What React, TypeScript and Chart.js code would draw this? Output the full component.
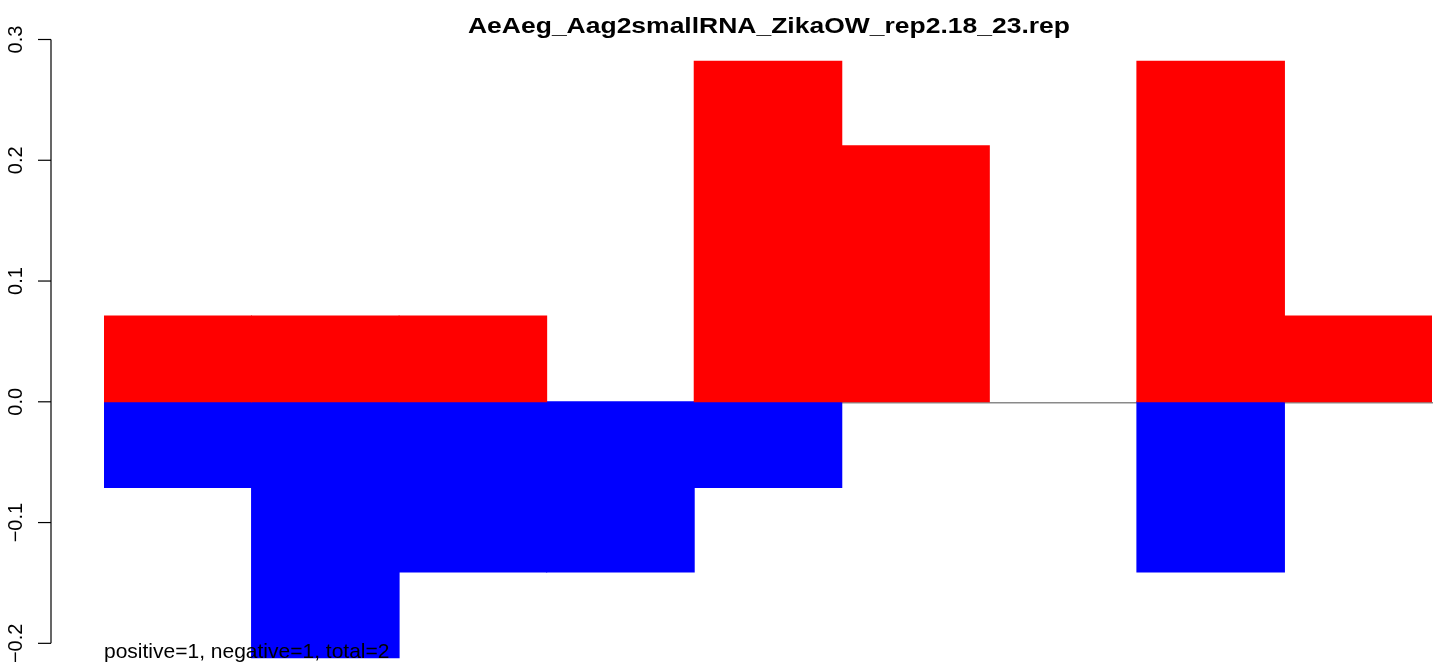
import React, { useEffect, useRef } from "react";
import { Chart, registerables } from "chart.js";

Chart.register(...registerables);

const TITLE = "AeAeg_Aag2smallRNA_ZikaOW_rep2.18_23.rep";
const FOOTNOTE = "positive=1, negative=1, total=2";
const categories = ["1", "2", "3", "4", "5", "6", "7", "8", "9"];
const positiveValues = [0.071, 0.071, 0.071, 0, 0.282, 0.212, 0, 0.282, 0.071];
const negativeValues = [-0.071, -0.212, -0.141, -0.141, -0.071, 0, 0, -0.141, 0];
const yTicks = [-0.2, -0.1, 0.0, 0.1, 0.2, 0.3];
const yTickLabels = ["\u22120.2", "\u22120.1", "0.0", "0.1", "0.2", "0.3"];
const Y_MIN = -0.2196;
const Y_MAX = 0.3;

const FONT = "'Liberation Sans', Arial, Helvetica, sans-serif";

const decorPlugin = {
  id: "rdecor",
  beforeDatasetsDraw(chart: any) {
    const { ctx, chartArea, scales } = chart;
    const y0 = scales.y.getPixelForValue(0);
    ctx.save();
    ctx.strokeStyle = "#8a8a8a";
    ctx.lineWidth = 1.5;
    ctx.beginPath();
    ctx.moveTo(chartArea.left, y0 + 1);
    ctx.lineTo(chartArea.right + 1, y0 + 1);
    ctx.stroke();
    ctx.restore();
  },
  afterDatasetsDraw(chart: any) {
    const { ctx, scales } = chart;
    const ys = scales.y;
    ctx.save();
    const axisX = 51;
    const top = ys.getPixelForValue(yTicks[yTicks.length - 1]);
    const bot = ys.getPixelForValue(yTicks[0]);
    ctx.strokeStyle = "#000";
    ctx.lineWidth = 1.2;
    ctx.beginPath();
    ctx.moveTo(axisX, top);
    ctx.lineTo(axisX, bot);
    ctx.stroke();
    ctx.font = `20px ${FONT}`;
    ctx.fillStyle = "#000";
    yTicks.forEach((v, i) => {
      const py = ys.getPixelForValue(v);
      ctx.beginPath();
      ctx.moveTo(38, py);
      ctx.lineTo(axisX, py);
      ctx.stroke();
      ctx.save();
      ctx.translate(22, py);
      ctx.rotate(-Math.PI / 2);
      ctx.textAlign = "center";
      ctx.textBaseline = "alphabetic";
      ctx.fillText(yTickLabels[i], 0, 0);
      ctx.restore();
    });
    ctx.font = `bold 21.5px ${FONT}`;
    const w = ctx.measureText(TITLE).width;
    const targetW = 602;
    ctx.save();
    ctx.translate(769, 33);
    ctx.scale(targetW / w, 1);
    ctx.textAlign = "center";
    ctx.textBaseline = "alphabetic";
    ctx.fillText(TITLE, 0, 0);
    ctx.restore();
    ctx.font = `21px ${FONT}`;
    ctx.textAlign = "left";
    ctx.textBaseline = "alphabetic";
    ctx.fillStyle = "#000";
    ctx.fillText(FOOTNOTE, 104, 658);
    ctx.restore();
  },
};

const nz = (arr: number[]) => arr.map((v) => (v === 0 ? null : v));

export default function App() {
  const ref = useRef<HTMLCanvasElement>(null);
  useEffect(() => {
    if (!ref.current) return;
    const chart = new Chart(ref.current, {
      type: "bar",
      data: {
        labels: categories,
        datasets: [
          {
            label: "positive",
            data: nz(positiveValues),
            backgroundColor: "#ff0000",
            borderWidth: 0,
            inflateAmount: 0.5,
            categoryPercentage: 1,
            barPercentage: 1,
          } as any,
          {
            label: "negative",
            data: nz(negativeValues),
            backgroundColor: "#0000ff",
            borderWidth: 0,
            inflateAmount: 0.5,
            categoryPercentage: 1,
            barPercentage: 1,
          } as any,
        ],
      },
      options: {
        responsive: false,
        animation: false,
        devicePixelRatio: 1,
        layout: { padding: { left: 104, right: 17, top: 39.5, bottom: 0 } },
        plugins: {
          legend: { display: false },
          title: { display: false },
          tooltip: { enabled: false },
        },
        scales: {
          x: { display: false, stacked: true },
          y: { display: false, stacked: true, min: Y_MIN, max: Y_MAX },
        },
      },
      plugins: [decorPlugin],
    });
    return () => chart.destroy();
  }, []);
  return (
    <div style={{ position: "absolute", left: 0, top: 0, width: 1449, height: 667, background: "#fff" }}>
      <canvas ref={ref} width={1449} height={667} style={{ display: "block" }} />
    </div>
  );
}
